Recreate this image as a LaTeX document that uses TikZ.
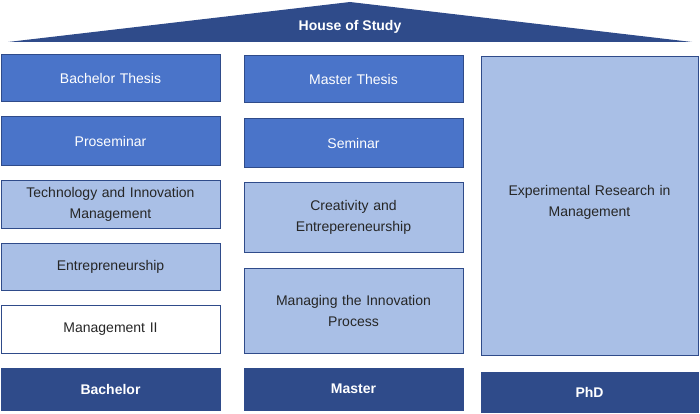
\documentclass[tikz,border=0pt]{standalone}
\usepackage{fontspec}
\setmainfont{Liberation Sans}
\definecolor{roofblue}{HTML}{2F4B8A}
\definecolor{midblue}{HTML}{4A74C9}
\definecolor{lightblue}{HTML}{A9BFE6}
\definecolor{edgeblue}{HTML}{2F4B8A}
\tikzset{
Dark/.style={draw=edgeblue, fill=roofblue, text=white, font=\fontsize{14}{21}\selectfont\bfseries, align=center, line width=1pt},
Mid/.style={draw=edgeblue, fill=midblue, text=white, font=\fontsize{14}{21}\selectfont, align=center, text width=200pt, line width=1pt},
Light/.style={draw=edgeblue, fill=lightblue, text=black!85, font=\fontsize{14}{21}\selectfont, align=center, text width=200pt, line width=1pt},
Plain/.style={draw=edgeblue, fill=white, text=black!85, font=\fontsize{14}{21}\selectfont, align=center, text width=200pt, line width=1pt},
}
\begin{document}
\begin{tikzpicture}[x=1pt,y=-1pt]
\useasboundingbox (0,0) rectangle (700,414);
	% roof
	\fill[roofblue] (8,42) -- (350,2) -- (692,42) -- cycle;
	\node[text=white, font=\fontsize{14}{16}\selectfont\bfseries] (roof) at (350,27) {House of Study};
	% bachelor column
	\node[Mid, minimum height=47pt, minimum width=219pt] (BT) at (110.5,78.5) {Bachelor Thesis};
	\node[Mid, minimum height=48pt, minimum width=219pt] (PS) at (110.5,141) {Proseminar};
	\node[Light, minimum height=48pt, minimum width=219pt] (TIM) at (110.5,204) {Technology and Innovation\\Management};
	\node[Light, minimum height=47pt, minimum width=219pt] (EN) at (110.5,266.5) {Entrepreneurship};
	\node[Plain, minimum height=48pt, minimum width=219pt] (M2) at (110.5,329) {Management II};
	\node[Dark, minimum height=42pt, minimum width=219pt] (B) at (110.5,389) {Bachelor};
	% master column
	\node[Mid, minimum height=47pt, minimum width=219pt] (MT) at (353.5,79.5) {Master Thesis};
	\node[Mid, minimum height=48pt, minimum width=219pt] (SE) at (353.5,143) {Seminar};
	\node[Light, minimum height=70pt, minimum width=219pt] (CE) at (353.5,217) {Creativity and\\Entrepereneurship};
	\node[Light, minimum height=85pt, minimum width=219pt] (MIP) at (353.5,310.5) {Managing the Innovation\\Process};
	\node[Dark, minimum height=42pt, minimum width=219pt] (M) at (353.5,389) {Master};
	% phd column
	\node[Light, minimum height=299pt, minimum width=217pt, anchor=north] (ERM) at (589.5,56) {};
	\node[Light, draw=none, fill=none, anchor=north] (ERMtext) at (589.5,182) {Experimental Research in\\Management};
	\node[Dark, minimum height=40pt, minimum width=217pt] (P) at (589.5,392) {PhD};
\end{tikzpicture}
\end{document}
